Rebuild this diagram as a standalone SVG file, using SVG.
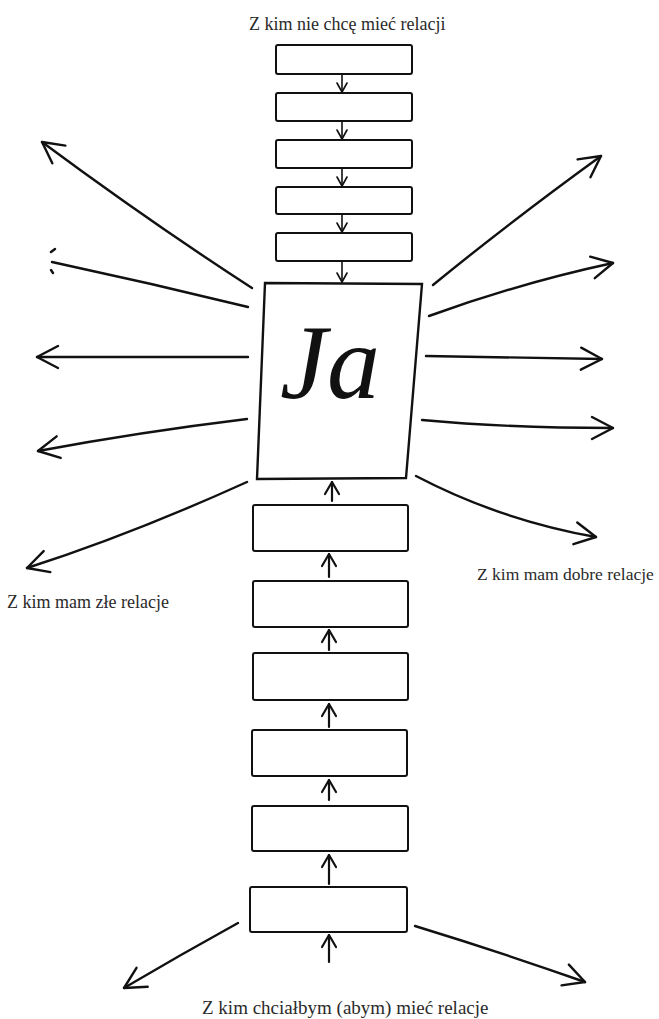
<svg xmlns="http://www.w3.org/2000/svg" width="659" height="1019" viewBox="0 0 659 1019">
  <style>
    .box { fill: #fff; stroke: #111; stroke-width: 2; }
    .main { fill: #fff; stroke: #111; stroke-width: 2.4; stroke-linejoin: miter; }
    .ray { fill: none; stroke: #111; stroke-width: 2.4; stroke-linecap: round; }
    .link { fill: none; stroke: #111; stroke-width: 1.6; stroke-linecap: round; }
    .linkB { fill: none; stroke: #111; stroke-width: 2.2; stroke-linecap: round; }
    .label { font-size: 18px; fill: #2a2a2a; }
    .me { font-style: italic; font-size: 106px; fill: #111; }
  </style>
  <defs>
    <marker id="headBig" viewBox="0 0 26 26" refX="24" refY="13" markerWidth="26" markerHeight="26" markerUnits="userSpaceOnUse" orient="auto">
      <path d="M3,2 L24,13 L3,24" fill="none" stroke="#111" stroke-width="2.4" stroke-linecap="round" stroke-linejoin="round"/>
    </marker>
    <marker id="headSmall" viewBox="0 0 12 12" refX="11" refY="6" markerWidth="12" markerHeight="12" markerUnits="userSpaceOnUse" orient="auto">
      <path d="M2,1 L11,6 L2,11" fill="none" stroke="#111" stroke-width="1.6" stroke-linecap="round" stroke-linejoin="round"/>
    </marker>
    <marker id="headMid" viewBox="0 0 16 16" refX="15" refY="8" markerWidth="16" markerHeight="16" markerUnits="userSpaceOnUse" orient="auto">
      <path d="M3,1 L15,8 L3,15" fill="none" stroke="#111" stroke-width="2.2" stroke-linecap="round" stroke-linejoin="round"/>
    </marker>
  </defs>

  <rect width="659" height="1019" fill="#fff"/>

  <!-- captions -->
  <g font-family="'Liberation Serif', 'DejaVu Serif', serif">
    <text class="label" x="249" y="30">Z kim nie chcę mieć relacji</text>
    <text class="label" x="7" y="608">Z kim mam złe relacje</text>
    <text class="label" x="477" y="580" style="font-size:17.5px">Z kim mam dobre relacje</text>
    <text class="label" x="202" y="1014" style="font-size:19px">Z kim chciałbym (abym) mieć relacje</text>
  </g>

  <!-- top chain: people to avoid -->
  <g id="avoid-1"><rect class="box" x="276" y="45" width="136" height="29" rx="2"/></g>
  <g id="avoid-2"><rect class="box" x="276" y="93" width="136" height="28" rx="2"/></g>
  <g id="avoid-3"><rect class="box" x="276" y="140" width="136" height="28" rx="2"/></g>
  <g id="avoid-4"><rect class="box" x="276" y="187" width="136" height="27" rx="2"/></g>
  <g id="avoid-5"><rect class="box" x="276" y="233" width="136" height="28" rx="2"/></g>

  <!-- centre -->
  <g id="me">
    <polygon class="main" points="265,283 422,284 406,478 257,479"/>
    <text class="me" font-family="'Liberation Serif', 'DejaVu Serif', serif" x="280" y="398">Ja</text>
  </g>

  <!-- bottom chain: wished relations -->
  <g id="wish-1"><rect class="box" x="253" y="505" width="155" height="46" rx="2"/></g>
  <g id="wish-2"><rect class="box" x="253" y="581" width="155" height="46" rx="2"/></g>
  <g id="wish-3"><rect class="box" x="253" y="653" width="155" height="47" rx="2"/></g>
  <g id="wish-4"><rect class="box" x="252" y="730" width="155" height="46" rx="2"/></g>
  <g id="wish-5"><rect class="box" x="252" y="806" width="156" height="45" rx="2"/></g>
  <g id="wish-6"><rect class="box" x="250" y="887" width="157" height="45" rx="2"/></g>

  <g id="connectors">
    <!-- downward links in top chain -->
    <line class="link" x1="342" y1="74" x2="342" y2="92" marker-end="url(#headSmall)"/>
    <line class="link" x1="342" y1="121" x2="342" y2="139" marker-end="url(#headSmall)"/>
    <line class="link" x1="342" y1="168" x2="342" y2="186" marker-end="url(#headSmall)"/>
    <line class="link" x1="342" y1="214" x2="342" y2="232" marker-end="url(#headSmall)"/>
    <line class="link" x1="342" y1="261" x2="342" y2="282" marker-end="url(#headSmall)"/>

    <!-- upward links in bottom chain -->
    <line class="linkB" x1="332" y1="501" x2="332" y2="482" marker-end="url(#headMid)"/>
    <line class="linkB" x1="329" y1="577" x2="329" y2="554" marker-end="url(#headMid)"/>
    <line class="linkB" x1="329" y1="650" x2="329" y2="630" marker-end="url(#headMid)"/>
    <line class="linkB" x1="329" y1="727" x2="329" y2="704" marker-end="url(#headMid)"/>
    <line class="linkB" x1="329" y1="800" x2="329" y2="780" marker-end="url(#headMid)"/>
    <line class="linkB" x1="329" y1="884" x2="329" y2="855" marker-end="url(#headMid)"/>
    <line class="linkB" x1="329" y1="962" x2="329" y2="935" marker-end="url(#headMid)"/>

    <!-- left rays -->
    <path class="ray" d="M252,288 Q150,222 42,142" marker-end="url(#headBig)"/>
    <path class="ray" d="M248,307 Q150,283 52,262"/>
    <path class="ray" d="M51,252 L55,249 M51,270 L53,273" stroke-width="1.6"/>
    <path class="ray" d="M248,357 L37,357" marker-end="url(#headBig)"/>
    <path class="ray" d="M247,419 Q140,432 38,451" marker-end="url(#headBig)"/>
    <path class="ray" d="M247,482 Q130,535 27,568" marker-end="url(#headBig)"/>

    <!-- right rays -->
    <path class="ray" d="M433,285 Q510,222 601,156" marker-end="url(#headBig)"/>
    <path class="ray" d="M429,316 Q520,283 613,263" marker-end="url(#headBig)"/>
    <path class="ray" d="M426,356 L602,359" marker-end="url(#headBig)"/>
    <path class="ray" d="M422,420 Q510,428 613,428" marker-end="url(#headBig)"/>
    <path class="ray" d="M416,476 Q500,520 596,537" marker-end="url(#headBig)"/>

    <!-- bottom rays -->
    <path class="ray" d="M238,923 Q180,955 124,988" marker-end="url(#headBig)"/>
    <path class="ray" d="M415,926 Q500,952 585,982" marker-end="url(#headBig)"/>
  </g>
</svg>
